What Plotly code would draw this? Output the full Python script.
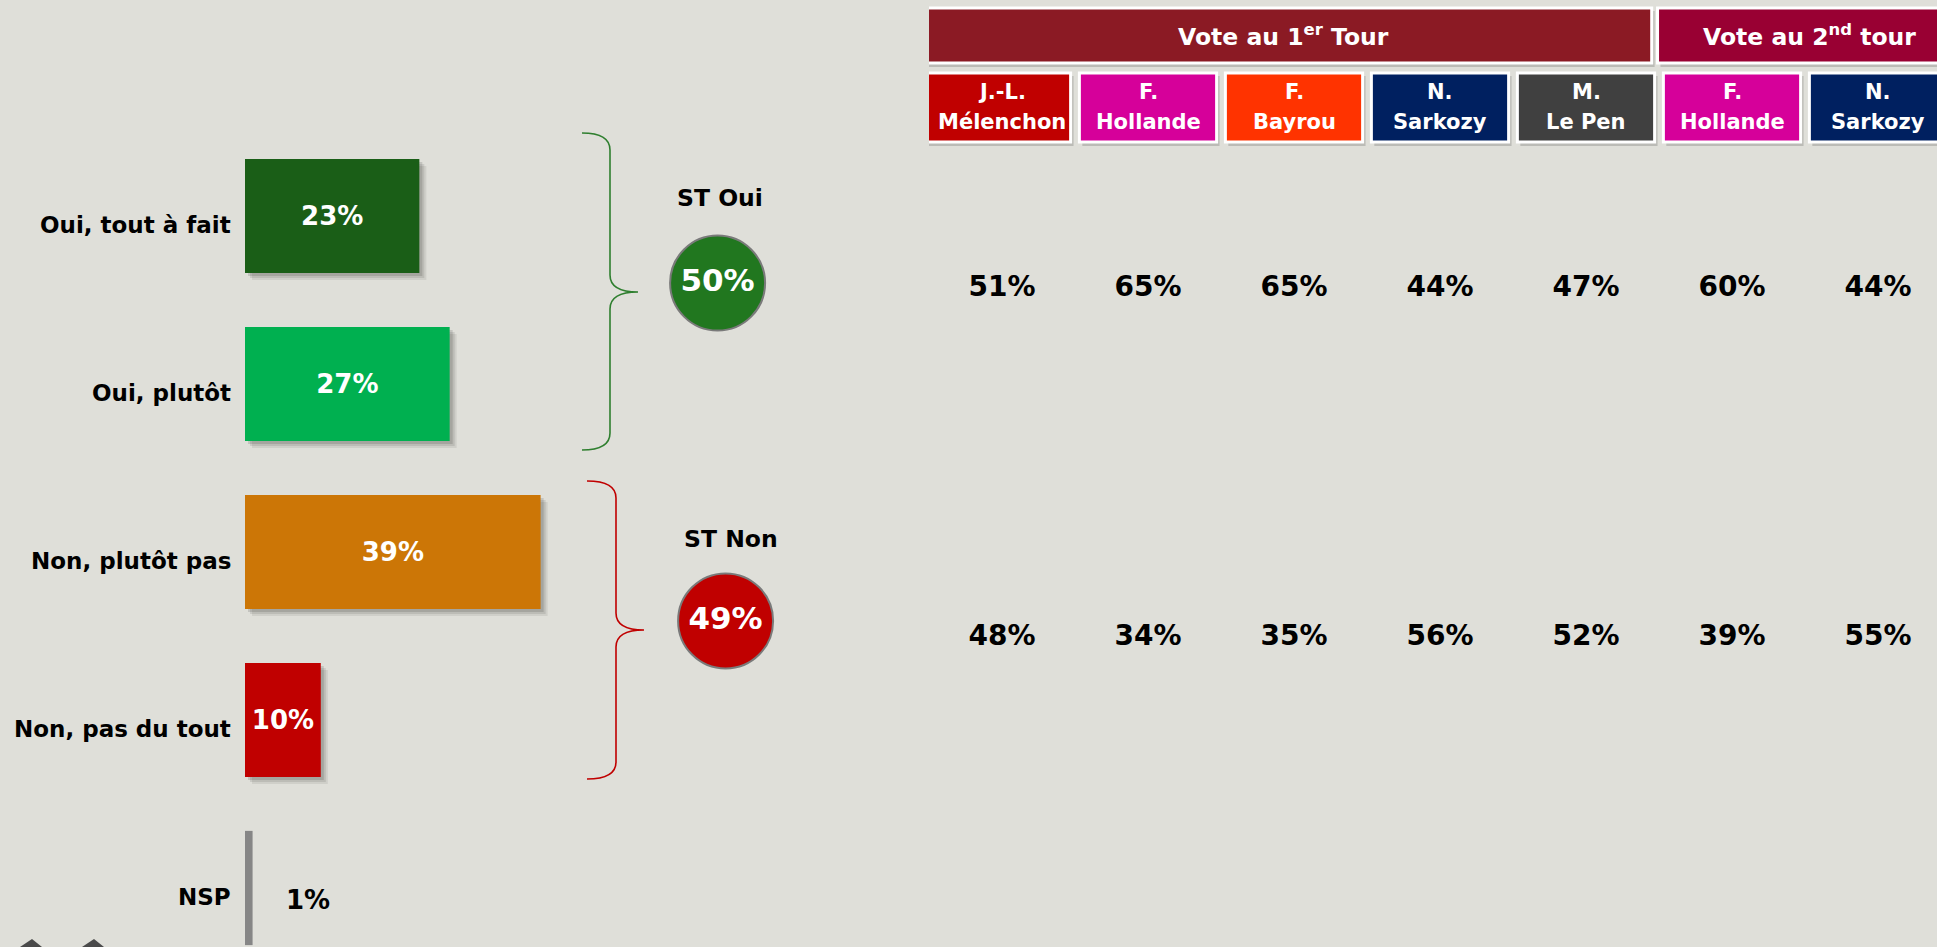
import plotly.graph_objects as go

W, H = 1937, 947
BG = "#DFDFD9"
FONT = "DejaVu Sans"

# ---------------- data ----------------
categories = ["Oui, tout à fait", "Oui, plutôt", "Non, plutôt pas", "Non, pas du tout", "NSP"]
values = [23, 27, 39, 10, 1]
bar_colors = ["#1A5E17", "#00B050", "#CC7606", "#C00000", "#868686"]

st_labels = ["ST Oui", "ST Non"]
st_values = [50, 49]
st_colors = ["#21771F", "#C00000"]

tour_headers = ["Vote au 1<sup>er</sup> Tour", "Vote au 2<sup>nd</sup> tour"]
tour_header_colors = ["#8B1A24", "#990033"]
cand_first = ["J.-L.", "F.", "F.", "N.", "M.", "F.", "N."]
cand_last = ["Mélenchon", "Hollande", "Bayrou", "Sarkozy", "Le Pen", "Hollande", "Sarkozy"]
cand_colors = ["#C00000", "#D6009A", "#FF3300", "#002060", "#404040", "#D6009A", "#002060"]
oui_by_cand = [51, 65, 65, 44, 47, 60, 44]
non_by_cand = [48, 34, 35, 56, 52, 39, 55]


def PX(x):
    return x / W


def PY(y):
    return 1 - y / H


fig = go.Figure()

pitch = 168.0      # px per category
c0 = 216.0         # px centre of first category
pxpct = 7.58       # px per percent
bargap = 0.32
half = (1 - bargap) / 2

shapes = []
annotations = []

big = [i for i, v in enumerate(values) if v >= 5]
small = [i for i, v in enumerate(values) if v < 5]

# soft shadows of the bars (derived from the data)
for i in big:
    v = values[i]
    for k, a in ((7, 0.07), (5, 0.09), (3, 0.12)):
        shapes.append(dict(type="rect", xref="x", yref="y", layer="below",
                           x0=k / pxpct, x1=v + k / pxpct,
                           y0=i - half + k / pitch, y1=i + half + k / pitch,
                           fillcolor=f"rgba(0,0,0,{a})", line=dict(width=0)))

# ---------------- main bars ----------------
fig.add_trace(go.Bar(
    x=[values[i] for i in big], y=[categories[i] for i in big], orientation="h",
    marker=dict(color=[bar_colors[i] for i in big], line=dict(width=0)),
    text=[f"{values[i]}%" for i in big],
    textposition="inside", insidetextanchor="middle",
    textfont=dict(family=FONT, size=26, color="white", weight="bold"),
    cliponaxis=False, hoverinfo="skip", xaxis="x", yaxis="y",
))
fig.add_trace(go.Bar(
    x=[values[i] for i in small], y=[categories[i] for i in small], orientation="h",
    marker=dict(color=[bar_colors[i] for i in small], line=dict(width=0)),
    cliponaxis=False, hoverinfo="skip", xaxis="x", yaxis="y",
))
for i, (c, v) in enumerate(zip(categories, values)):
    # category label to the left of the bar
    annotations.append(dict(x=0, y=c, xref="x", yref="y", text=f"<b>{c}</b>",
                            showarrow=False, xanchor="right", yanchor="middle",
                            xshift=-12, yshift=-9,
                            font=dict(family=FONT, size=23, color="black")))
    if i in small:
        annotations.append(dict(x=v, y=c, xref="x", yref="y", text=f"<b>{v}%</b>",
                                showarrow=False, xanchor="left", yanchor="middle",
                                xshift=31, yshift=-12,
                                font=dict(family=FONT, size=26, color="black")))

# ---------------- table values ----------------
ncol = len(cand_last)
fig.add_trace(go.Scatter(
    x=list(range(ncol)) * 2,
    y=[0] * ncol + [1] * ncol,
    mode="text",
    text=[f"{v}%" for v in oui_by_cand] + [f"{v}%" for v in non_by_cand],
    textfont=dict(family=FONT, size=28, color="black", weight="bold"),
    hoverinfo="skip", xaxis="x2", yaxis="y2", cliponaxis=False,
))

# ---------------- ST circles ----------------
fig.add_trace(go.Scatter(
    x=[-0.06, 0.14], y=[-0.017, 0.951], mode="markers+text",
    marker=dict(size=95, color=st_colors, line=dict(color="#7A7A7A", width=2)),
    text=[f"{v}%" for v in st_values], textposition="middle center",
    textfont=dict(family=FONT, size=31, color="white", weight="bold"),
    hoverinfo="skip", xaxis="x3", yaxis="y2", cliponaxis=False,
))
for i, (lab, xx, ys) in enumerate(zip(st_labels, [0.0, 0.275], [91, 99])):
    annotations.append(dict(x=xx, y=i, xref="x3", yref="y2", text=f"<b>{lab}</b>",
                            showarrow=False, yanchor="middle", yshift=ys,
                            font=dict(family=FONT, size=23.5, color="black")))

# ---------------- brackets ----------------
def bracket(xl, xs, xp, y0, ym, y1, color):
    r = 17
    pts = (f"M {PX(xl)},{PY(y0)} Q {PX(xs)},{PY(y0)} {PX(xs)},{PY(y0 + r)} "
           f"L {PX(xs)},{PY(ym - r)} Q {PX(xs)},{PY(ym)} {PX(xp)},{PY(ym)} "
           f"Q {PX(xs)},{PY(ym)} {PX(xs)},{PY(ym + r)} "
           f"L {PX(xs)},{PY(y1 - r)} Q {PX(xs)},{PY(y1)} {PX(xl)},{PY(y1)}")
    return dict(type="path", xref="paper", yref="paper", path=pts,
                line=dict(color=color, width=1.6))

shapes.append(bracket(582, 610, 638, 133, 292, 450, "#2F7F2F"))
shapes.append(bracket(587, 616, 644, 481, 630, 779, "#C00000"))

# ---------------- header boxes ----------------
hdr_spans = [(-0.52, 4.45), (4.49, 6.9)]
hdr_text_x = [1.93, 5.53]
for (x0, x1), col, txt, tx in zip(hdr_spans, tour_header_colors, tour_headers, hdr_text_x):
    shapes.append(dict(type="rect", xref="x2", yref="paper", x0=x0 + 0.02, x1=x1 + 0.02,
                       y0=PY(67), y1=PY(11), fillcolor="rgba(0,0,0,0.16)", line=dict(width=0),
                       layer="below"))
    shapes.append(dict(type="rect", xref="x2", yref="paper", x0=x0, x1=x1,
                       y0=PY(63), y1=PY(8), fillcolor=col, line=dict(color="white", width=3)))
    annotations.append(dict(x=tx, y=PY(35.5), xref="x2", yref="paper", text=f"<b>{txt}</b>",
                            showarrow=False, yanchor="middle",
                            font=dict(family=FONT, size=23.5, color="white")))

for i in range(ncol):
    x0 = i - 0.47 if i > 0 else -0.52
    x1 = i + 0.47
    shapes.append(dict(type="rect", xref="x2", yref="paper", x0=x0 + 0.02, x1=x1 + 0.02,
                       y0=PY(146), y1=PY(76), fillcolor="rgba(0,0,0,0.16)", line=dict(width=0),
                       layer="below"))
    shapes.append(dict(type="rect", xref="x2", yref="paper", x0=x0, x1=x1,
                       y0=PY(142), y1=PY(73), fillcolor=cand_colors[i],
                       line=dict(color="white", width=3)))
    annotations.append(dict(x=i, y=PY(92), xref="x2", yref="paper", text=f"<b>{cand_first[i]}</b>",
                            showarrow=False, yanchor="middle",
                            font=dict(family=FONT, size=21, color="white")))
    annotations.append(dict(x=i, y=PY(122), xref="x2", yref="paper", text=f"<b>{cand_last[i]}</b>",
                            showarrow=False, yanchor="middle",
                            font=dict(family=FONT, size=21, color="white")))

# decorative partial arrows in the bottom-left corner
for xa in (20, 82):
    shapes.append(dict(type="path", xref="paper", yref="paper",
                       path=f"M {PX(xa)},{PY(947)} L {PX(xa + 12)},{PY(939)} L {PX(xa + 22)},{PY(947)} Z",
                       fillcolor="#4A4A4A", line=dict(width=0)))

for a in annotations:
    fig.add_annotation(**a)

# ---------------- layout ----------------
y2_r0, y2_r1 = 289.0, 638.0
y2_scale = y2_r1 - y2_r0
fig.update_layout(
    width=W, height=H,
    margin=dict(l=0, r=0, t=0, b=0),
    paper_bgcolor=BG, plot_bgcolor="rgba(0,0,0,0)",
    showlegend=False,
    barmode="overlay",
    bargap=bargap,
    shapes=shapes,
    xaxis=dict(domain=[PX(245), PX(245 + 50 * pxpct)], range=[0, 50], visible=False,
               anchor="y", fixedrange=True),
    yaxis=dict(domain=[0, 1], range=[(H - c0) / pitch, -c0 / pitch], type="category",
               categoryorder="array", categoryarray=categories,
               showgrid=False, zeroline=False, showline=False, ticks="",
               showticklabels=False, anchor="x", fixedrange=True),
    xaxis2=dict(domain=[PX(929), 1], range=[-0.5, (W - 1002) / 146.0], visible=False,
                anchor="y2", fixedrange=True),
    yaxis2=dict(domain=[0, 1], range=[(H - y2_r0) / y2_scale, -y2_r0 / y2_scale], visible=False,
                anchor="x2", fixedrange=True),
    xaxis3=dict(domain=[PX(680), PX(760)], range=[-1, 1], visible=False,
                anchor="y2", fixedrange=True),
    font=dict(family=FONT),
)

fig.write_html("out.html", config={"displayModeBar": False},
               post_script="document.body.style.margin='0';document.body.style.overflow='hidden';")
